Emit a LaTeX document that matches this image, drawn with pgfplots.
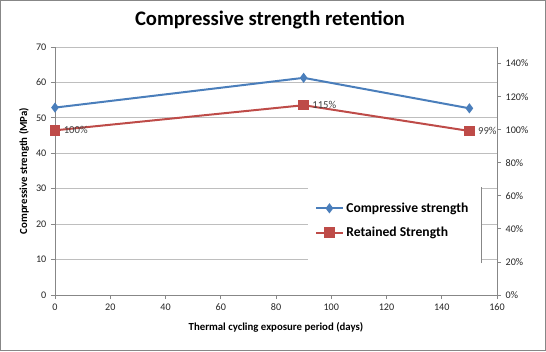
\documentclass[border=0pt]{standalone}
\usepackage{pgfplots}
\pgfplotsset{compat=1.18}
\usepackage{fontspec}
\setmainfont{Carlito}
\definecolor{exblue}{HTML}{4A7EBB}
\definecolor{exred}{HTML}{BE4B48}
\definecolor{gridgray}{HTML}{BEBEBE}
\definecolor{axgray}{HTML}{878787}
\begin{document}
\begin{tikzpicture}
\useasboundingbox (-41.25pt,-42pt) rectangle (368.25pt,221.25pt);
\pgfplotsset{common/.style={scale only axis, width=331.5pt, height=186pt,
  at={(0,0)}, anchor=south west, xmin=0, xmax=160,
  /pgf/number format/assume math mode=true,
  tick label style={font=\fontsize{7.6}{9}\selectfont, text=black!85},
  axis line style={axgray, line width=0.6pt},
  tick style={axgray, line width=0.6pt},
  tick align=outside, major tick length=3pt}}
\begin{axis}[common, ymin=0, ymax=70, ytick={0,10,...,70}, xtick={0,20,...,160},
  axis y line*=left, axis x line*=bottom,
  ymajorgrids, major grid style={gridgray, line width=0.6pt},
  xlabel={Thermal cycling exposure period (days)},
  ylabel={Compressive strength (MPa)},
  label style={font=\bfseries\fontsize{8.1}{9}\selectfont},
  xlabel style={yshift=-2pt}, ylabel style={yshift=-1.5pt}]
\addplot[exblue, line width=1.5pt, mark=diamond*, mark size=2.6pt] coordinates {(0,52.9) (90,61.3) (150,52.7)};
\end{axis}
\begin{axis}[common, ymin=0, ymax=150, ytick={0,20,...,140},
  axis y line*=right, axis x line=none,
  yticklabel={\pgfmathprintnumber{\tick}\%},
  legend style={at={(rel axis cs:0.585,0.39)}, anchor=north west, draw=none, fill=none,
    font=\bfseries\fontsize{10.2}{12}\selectfont, row sep=5.5pt, inner sep=1pt},
  legend cell align=left,
  legend image code/.code={\draw[mark repeat=2,mark phase=2] plot coordinates {(0cm,0cm) (0.35cm,0cm) (0.7cm,0cm)};}]
\fill[white] (rel axis cs:0.572,0.115) rectangle (rel axis cs:0.964,0.445);
\draw[axgray, line width=0.6pt] (rel axis cs:0.964,0.129) -- (rel axis cs:0.964,0.435);
\addlegendimage{exblue, line width=1.5pt, mark=diamond*, mark size=2.6pt}
\addlegendentry{Compressive strength}
\addplot[exred, line width=1.5pt, mark=square*, mark size=3.2pt,
  nodes near coords, point meta=explicit symbolic,
  every node near coord/.style={anchor=west, font=\fontsize{8}{9}\selectfont, text=black!75, xshift=2.5pt}]
  coordinates {(0,99.6) [100\%] (90,114.8) [115\%] (150,99.2) [99\%]};
\addlegendentry{Retained Strength}
\end{axis}
\draw[axgray, line width=0.6pt] (-40.6pt,-41.6pt) rectangle (367.9pt,220.6pt);
\node[font=\bfseries\fontsize{15.5}{18}\selectfont] at (161.25pt,206pt) {Compressive strength retention};
\end{tikzpicture}
\end{document}
